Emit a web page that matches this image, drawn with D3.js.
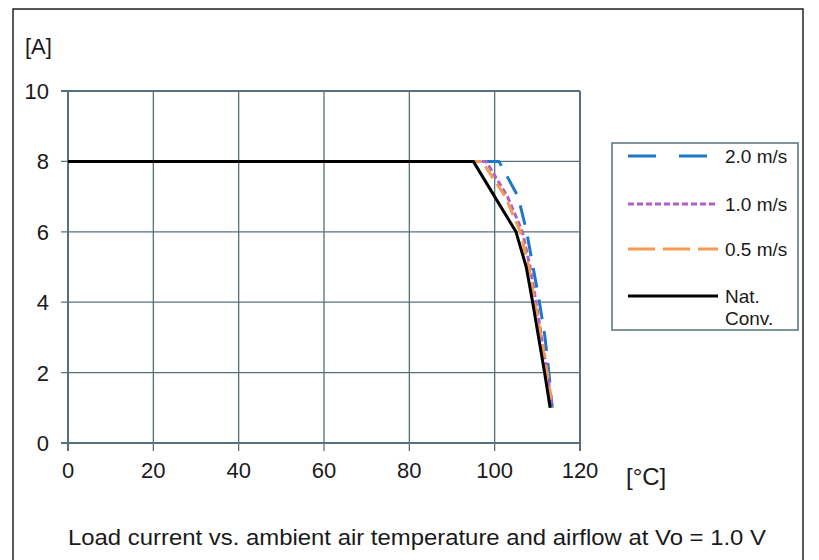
<!DOCTYPE html>
<html>
<head>
<meta charset="utf-8">
<script src="https://cdn.jsdelivr.net/npm/d3@7"></script>
<style>
  body { margin: 0; background: #fff; }
  text { font-family: "Liberation Sans", Arial, sans-serif; fill: #1a1a1a; }
</style>
</head>
<body>
<div id="graph"></div>
<script>
// data
var xTicks = [0, 20, 40, 60, 80, 100, 120];
var yTicks = [0, 2, 4, 6, 8, 10];

var temp20 = [0, 101, 105.5, 107.5, 109, 110.5, 111.8, 112.7, 113.5];
var amp20  = [8, 8, 7, 6, 5, 4, 3, 2, 1];
var temp10 = [0, 98, 103, 106.5, 108.3, 109.7, 111, 112.3, 113.5];
var amp10  = [8, 8, 7, 6, 5, 4, 3, 2, 1];
var temp05 = [0, 97, 102.5, 106, 108, 109.4, 110.9, 112.3, 113.5];
var amp05  = [8, 8, 7, 6, 5, 4, 3, 2, 1];
var tempNat = [0, 95, 100, 105, 107.4, 108.9, 110.3, 111.7, 113];
var ampNat  = [8, 8, 7, 6, 5, 4, 3, 2, 1];

var seriesNames = ["2.0 m/s", "1.0 m/s", "0.5 m/s", "Nat. Conv."];

var svg = d3.select('#graph').append("svg")
  .attr('width', 819)
  .attr('height', 560);

// outer frame
svg.append("rect")
  .attr("x", 13).attr("y", 9)
  .attr("width", 790).attr("height", 600)
  .attr("fill", "none").attr("stroke", "#222").attr("stroke-width", 1.5);

var x = d3.scaleLinear().domain([0, 120]).range([68, 580]);
var y = d3.scaleLinear().domain([0, 10]).range([443, 91]);

var gridColor = "#58707a";

// grid
svg.append("g").selectAll("line").data(xTicks).enter().append("line")
  .attr("x1", function(d) { return x(d); }).attr("x2", function(d) { return x(d); })
  .attr("y1", y(10)).attr("y2", y(0) + 8)
  .attr("stroke", gridColor).attr("stroke-width", function(d) { return d == 0 || d == 120 ? 2 : 1.3; });
svg.append("g").selectAll("line").data(yTicks).enter().append("line")
  .attr("x1", x(0) - 7).attr("x2", x(120))
  .attr("y1", function(d) { return y(d); }).attr("y2", function(d) { return y(d); })
  .attr("stroke", gridColor).attr("stroke-width", function(d) { return d == 0 || d == 10 ? 2 : 1.3; });

// tick labels
svg.append("g").selectAll("text").data(yTicks).enter().append("text")
  .attr("x", 49).attr("y", function(d) { return y(d) + 8; })
  .attr("text-anchor", "end").attr("font-size", 22)
  .text(function(d) { return d; });
svg.append("g").selectAll("text").data(xTicks).enter().append("text")
  .attr("x", function(d) { return x(d); }).attr("y", 478)
  .attr("text-anchor", "middle").attr("font-size", 22)
  .text(function(d) { return d; });

svg.append("text").attr("x", 25).attr("y", 54).attr("font-size", 22).text("[A]");
svg.append("text").attr("x", 626).attr("y", 485).attr("font-size", 24).text("[°C]");

svg.append("text")
  .attr("x", 68).attr("y", 545)
  .attr("font-size", 22)
  .attr("textLength", 698).attr("lengthAdjust", "spacingAndGlyphs")
  .text("Load current vs. ambient air temperature and airflow at Vo = 1.0 V");

// series
var series = [
  {name: seriesNames[0], t: temp20, a: amp20, color: "#1f77c8", dash: "20,12"},
  {name: seriesNames[1], t: temp10, a: amp10, color: "#b060c8", dash: "6,3"},
  {name: seriesNames[2], t: temp05, a: amp05, color: "#f59a50", dash: "14,7"},
  {name: seriesNames[3], t: tempNat, a: ampNat, color: "#000", dash: null}
];

var line = d3.line()
  .x(function(d) { return x(d[0]); })
  .y(function(d) { return y(d[1]); });

series.forEach(function(s) {
  var pts = s.t.map(function(v, i) { return [v, s.a[i]]; });
  svg.append("path")
    .datum(pts)
    .attr("d", line)
    .attr("fill", "none")
    .attr("stroke", s.color)
    .attr("stroke-width", 3)
    .attr("stroke-linejoin", "round")
    .attr("stroke-dasharray", s.dash);
});

// legend
svg.append("rect")
  .attr("x", 612).attr("y", 143).attr("width", 186).attr("height", 187)
  .attr("fill", "none").attr("stroke", "#56707a").attr("stroke-width", 1.5);

var legendY = [156, 204, 249, 296];
var legendDash = ["28,23", "6,3", "27,8", null];
series.forEach(function(s, i) {
  svg.append("line")
    .attr("x1", 628).attr("x2", 718)
    .attr("y1", legendY[i]).attr("y2", legendY[i])
    .attr("stroke", s.color).attr("stroke-width", 3)
    .attr("stroke-dasharray", legendDash[i]);
});
[0, 1, 2].forEach(function(i) {
  svg.append("text").attr("x", 725).attr("y", legendY[i] + 7)
    .attr("font-size", 19).text(seriesNames[i]);
});
svg.append("text").attr("x", 725).attr("y", 303).attr("font-size", 19).text("Nat.");
svg.append("text").attr("x", 725).attr("y", 325).attr("font-size", 19).text("Conv.");
</script>
</body>
</html>
